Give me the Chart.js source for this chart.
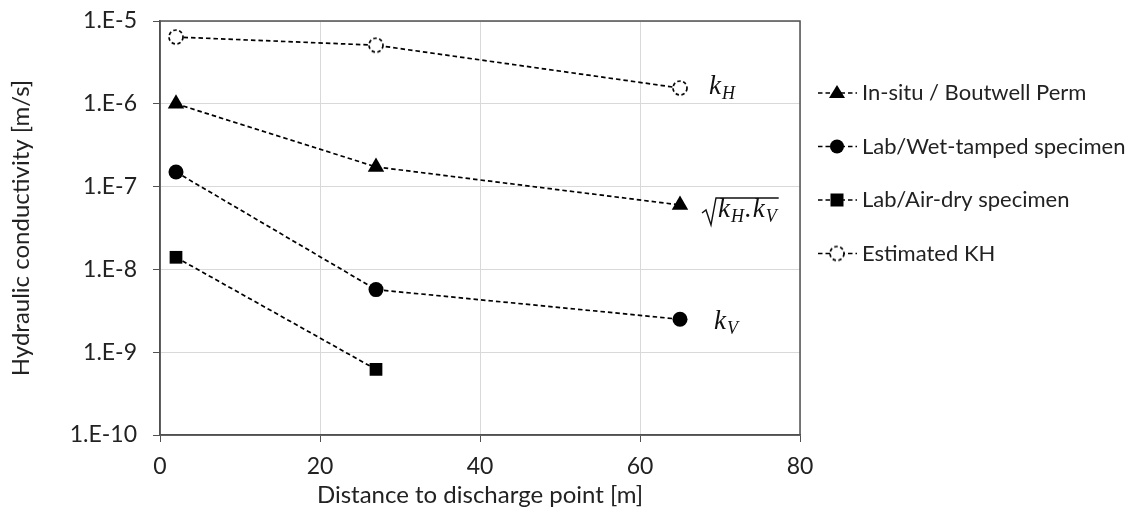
<!DOCTYPE html>
<html>
<head>
<meta charset="utf-8">
<script src="https://cdn.jsdelivr.net/npm/chart.js@4"></script>
<style>
    html, body { margin: 0; padding: 0; background: #fff; }
    #wrap { width: 1133px; height: 513px; }
</style>
</head>
<body>
<div id="wrap"><canvas id="kChart"></canvas></div>
<script>
const distances = [2, 27, 65];
const inSitu = [1.0e-6, 1.73e-7, 6.0e-8];
const wetTamped = [1.5e-7, 5.7e-9, 2.5e-9];
const airDry = [1.4e-8, 6.2e-10];
const estimatedKH = [6.4e-6, 5.1e-6, 1.55e-6];
const seriesNames = ['In-situ / Boutwell Perm', 'Lab/Wet-tamped specimen', 'Lab/Air-dry specimen', 'Estimated KH'];
const yTickValues = [1e-10, 1e-9, 1e-8, 1e-7, 1e-6, 1e-5];

const textColor = '#222';
const axisColor = '#505050';

// dashed open circle used for the estimated KH marker
function dashedCircle(r) {
    const c = document.createElement('canvas');
    const s = Math.ceil(r * 2 + 4);
    c.width = s; c.height = s;
    const g = c.getContext('2d');
    g.fillStyle = '#fff';
    g.strokeStyle = '#000';
    g.lineWidth = 1.7;
    g.setLineDash([3.5, 2.5]);
    g.beginPath();
    g.arc(s / 2, s / 2, r, 0, Math.PI * 2);
    g.fill();
    g.stroke();
    return c;
}
const openMarker = dashedCircle(7);

function pts(ys) {
    return ys.map((y, i) => ({ x: distances[i], y: y }));
}

function series(label, ys, style, radius) {
    return {
        label: label,
        data: pts(ys),
        borderColor: '#000',
        borderWidth: 1.7,
        borderDash: [4.5, 3],
        backgroundColor: '#000',
        pointStyle: style,
        pointRadius: radius,
        pointHoverRadius: radius,
        pointBorderWidth: 0,
        showLine: true,
        tension: 0
    };
}

function drawMarker(ctx, style, x, y) {
    ctx.save();
    ctx.fillStyle = '#000';
    ctx.beginPath();
    if (style === 'triangle') {
        ctx.moveTo(x, y - 8);
        ctx.lineTo(x + 8, y + 5);
        ctx.lineTo(x - 8, y + 5);
        ctx.closePath();
        ctx.fill();
    } else if (style === 'circle') {
        ctx.arc(x, y, 7, 0, Math.PI * 2);
        ctx.fill();
    } else if (style === 'rect') {
        ctx.rect(x - 6.5, y - 6.5, 13, 13);
        ctx.fill();
    } else {
        ctx.drawImage(style, x - style.width / 2, y - style.height / 2);
    }
    ctx.restore();
}

// italic k with a subscript, returns the x where it ends
function drawK(ctx, x, base, sub) {
    ctx.font = 'italic 27px "Liberation Serif"';
    ctx.fillText('k', x, base);
    let w = ctx.measureText('k').width + 1;
    ctx.font = 'italic 18px "Liberation Serif"';
    ctx.fillText(sub, x + w, base + 5);
    return x + w + ctx.measureText(sub).width;
}

const boxAndLegend = {
    id: 'boxAndLegend',
    afterDraw(chart) {
        const ctx = chart.ctx;
        const a = chart.chartArea;
        ctx.save();
        ctx.strokeStyle = axisColor;
        ctx.lineWidth = 1.5;
        ctx.strokeRect(a.left, a.top, a.right - a.left, a.bottom - a.top);

        // legend
        chart.data.datasets.forEach((ds, i) => {
            const y = 93 + i * 53.5;
            ctx.strokeStyle = '#000';
            ctx.lineWidth = 1.7;
            ctx.setLineDash([4.5, 3]);
            ctx.beginPath();
            ctx.moveTo(818, y);
            ctx.lineTo(857, y);
            ctx.stroke();
            ctx.setLineDash([]);
            drawMarker(ctx, ds.pointStyle, 837, y);
            ctx.fillStyle = textColor;
            ctx.font = '22px Lato';
            ctx.textBaseline = 'middle';
            ctx.textAlign = 'left';
            ctx.fillText(ds.label, 862, y);
        });

        // k labels next to the last points
        ctx.fillStyle = '#111';
        ctx.textBaseline = 'alphabetic';
        const pKH = chart.getDatasetMeta(3).data[2];
        drawK(ctx, pKH.x + 29, pKH.y + 6, 'H');

        const pG = chart.getDatasetMeta(0).data[2];
        const base = pG.y + 12;
        let xe = drawK(ctx, pG.x + 38, base, 'H');
        ctx.font = 'italic 27px "Liberation Serif"';
        ctx.fillText('.', xe + 1, base);
        xe = drawK(ctx, xe + 2 + ctx.measureText('.').width, base, 'V');
        ctx.strokeStyle = '#111';
        ctx.lineWidth = 1.4;
        ctx.beginPath();
        ctx.moveTo(pG.x + 22, pG.y + 8);
        ctx.lineTo(pG.x + 26, pG.y + 5);
        ctx.lineTo(pG.x + 31, pG.y + 20);
        ctx.lineTo(pG.x + 36, pG.y - 7);
        ctx.lineTo(xe + 2, pG.y - 7);
        ctx.stroke();

        const pV = chart.getDatasetMeta(1).data[2];
        drawK(ctx, pV.x + 34, pV.y + 10, 'V');
        ctx.restore();
    }
};

new Chart(document.getElementById('kChart').getContext('2d'), {
    type: 'scatter',
    data: {
        datasets: [
            series(seriesNames[0], inSitu, 'triangle', 9.5),
            series(seriesNames[1], wetTamped, 'circle', 7.5),
            series(seriesNames[2], airDry, 'rect', 9),
            Object.assign(series(seriesNames[3], estimatedKH, openMarker, 7), { backgroundColor: '#fff' })
        ]
    },
    options: {
        responsive: true,
        maintainAspectRatio: false,
        animation: false,
        layout: { padding: { top: 21, right: 333, left: 0, bottom: 0 } },
        plugins: { legend: { display: false }, tooltip: { enabled: false } },
        scales: {
            x: {
                type: 'linear',
                min: 0,
                max: 80,
                ticks: { stepSize: 20, color: textColor, font: { family: 'Lato', size: 23 }, padding: 11 },
                grid: { color: '#d9d9d9', tickColor: axisColor, tickLength: 7 },
                border: { color: axisColor, width: 1.5 },
                title: { display: true, text: 'Distance to discharge point [m]', color: textColor,
                         font: { family: 'Lato', size: 24 }, padding: { top: 2, bottom: 3 } },
                afterFit(scale) { scale.height = 78; }
            },
            y: {
                type: 'logarithmic',
                min: 1e-10,
                max: 1e-5,
                afterBuildTicks(scale) { scale.ticks = yTickValues.map(v => ({ value: v })); },
                ticks: {
                    color: textColor,
                    font: { family: 'Lato', size: 23 },
                    padding: 16,
                    callback: v => '1.E' + Math.round(Math.log10(v))
                },
                grid: { color: '#d9d9d9', tickColor: axisColor, tickLength: 7 },
                border: { color: axisColor, width: 1.5 },
                title: { display: true, text: 'Hydraulic conductivity [m/s]', color: textColor,
                         font: { family: 'Lato', size: 24 }, padding: { top: 7, bottom: 4 } },
                afterFit(scale) {
                    scale.width = 160;
                    scale.paddingTop = 0;
                    scale.paddingBottom = 0;
                }
            }
        }
    },
    plugins: [boxAndLegend]
});
</script>
</body>
</html>
